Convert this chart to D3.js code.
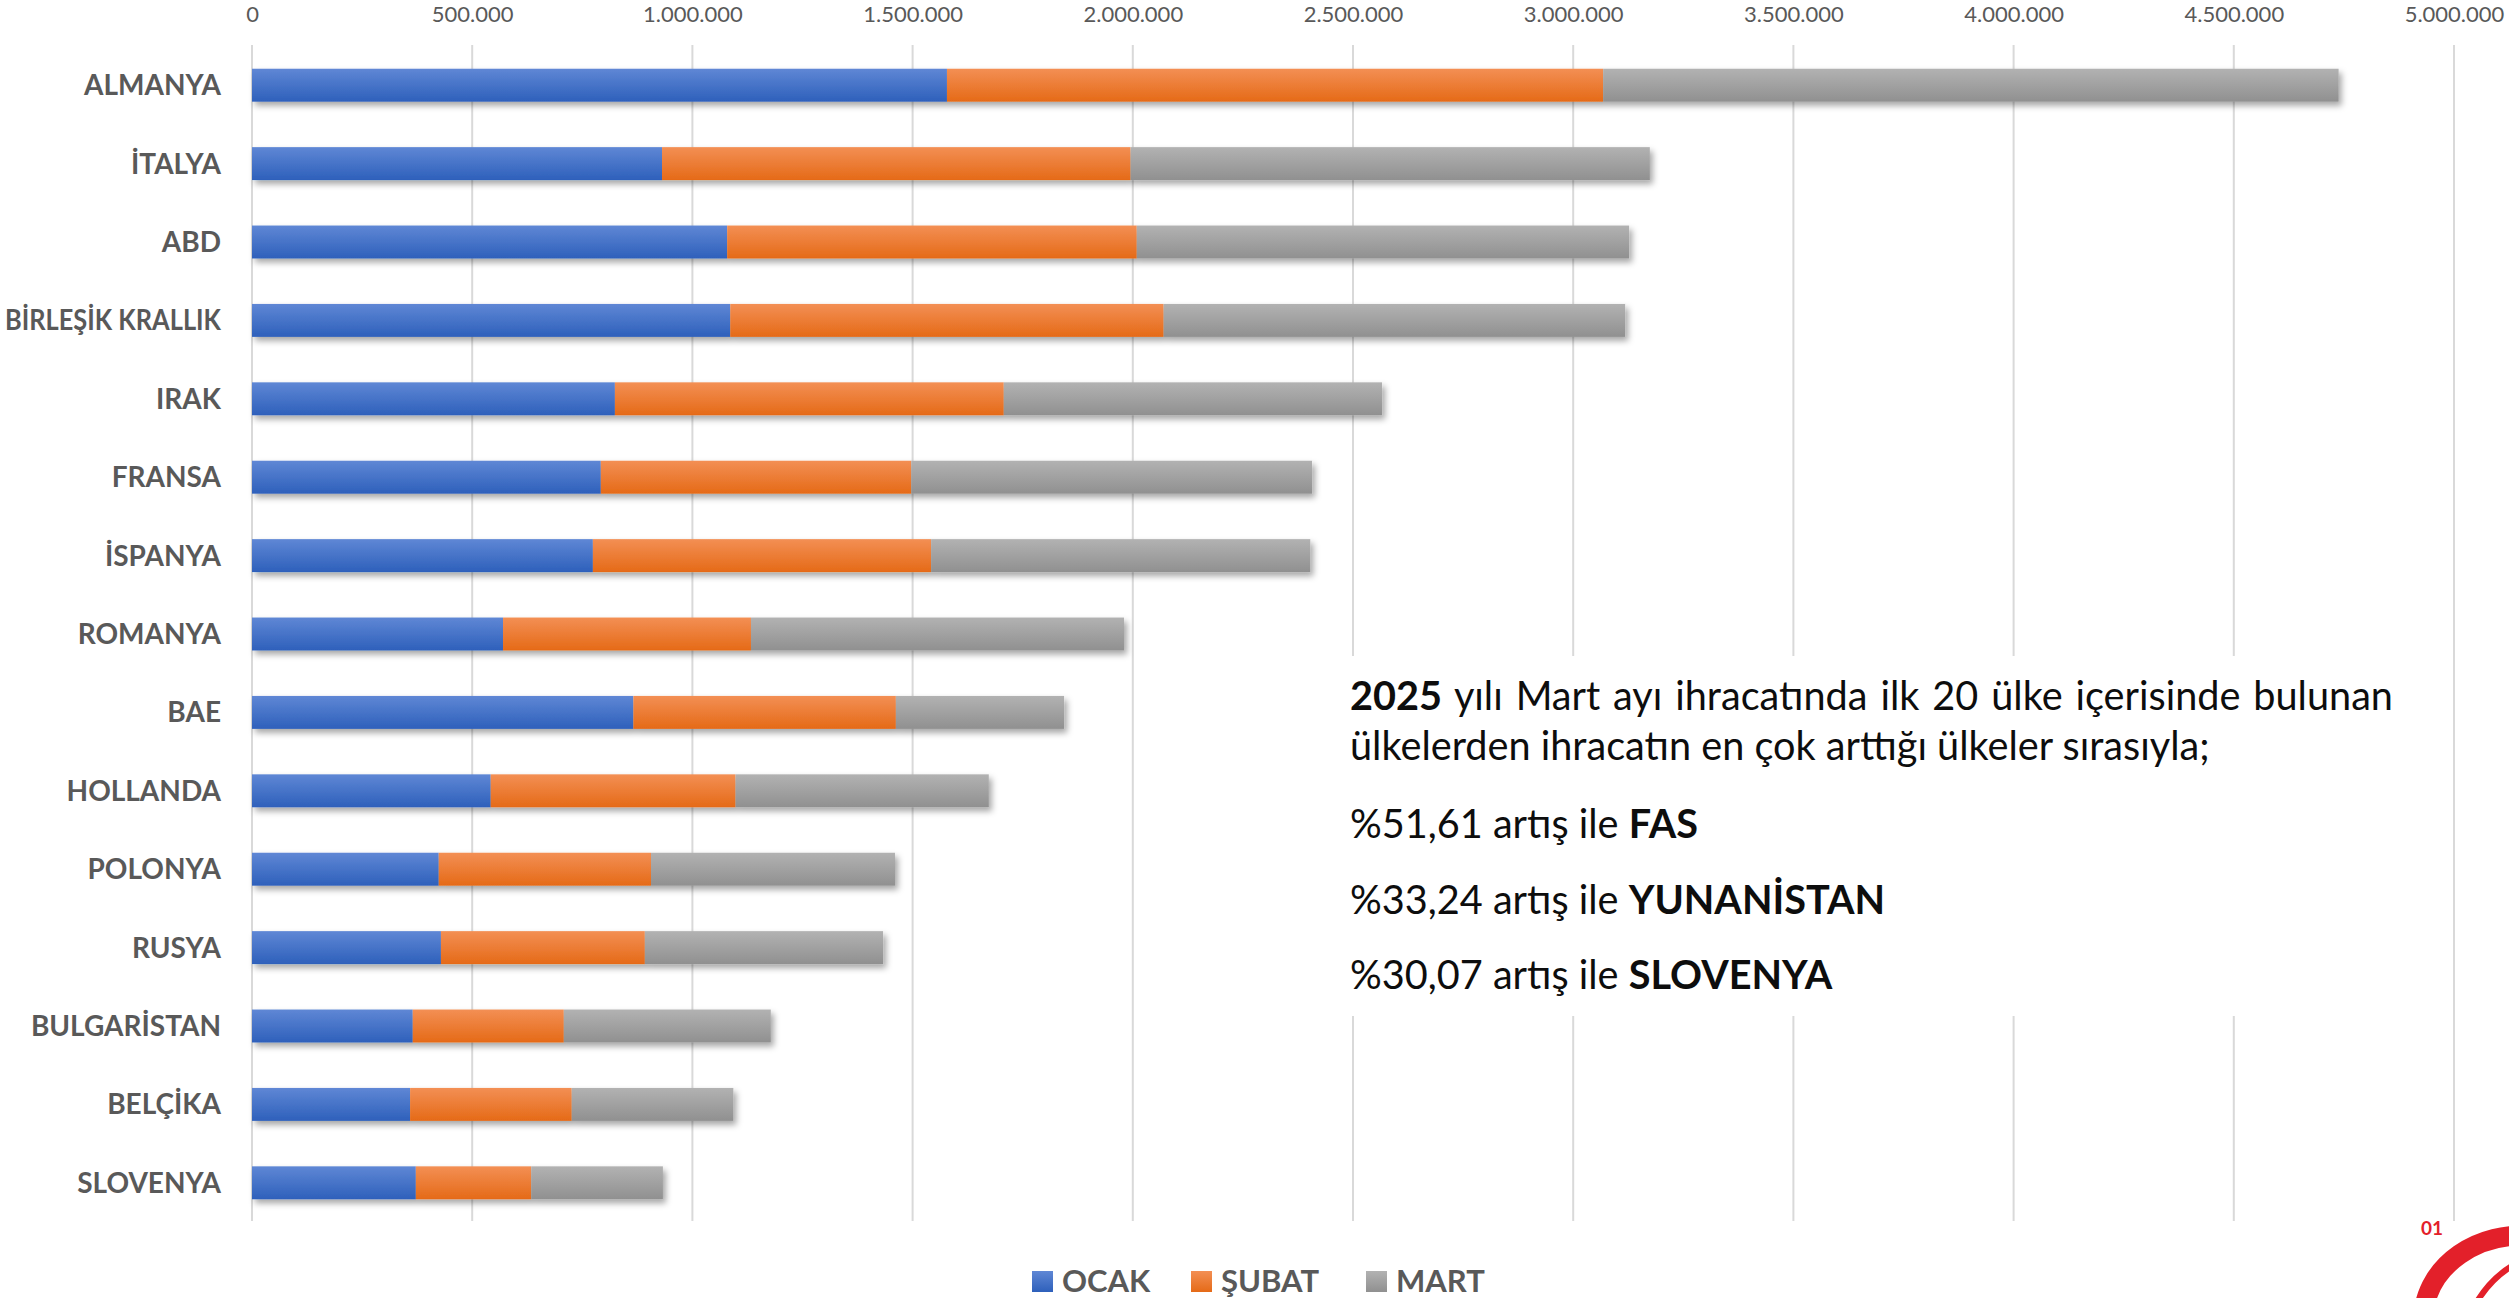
<!doctype html>
<html lang="tr">
<head>
    <meta charset="UTF-8">
    <title>İhracat - İlk 15 Ülke</title>
    <script src="https://cdnjs.cloudflare.com/ajax/libs/d3/7.8.5/d3.min.js"></script>
    <style>
        html, body {
            margin: 0;
            padding: 0;
            background: #ffffff;
            overflow: hidden;
        }
        text {
            font-family: Lato, "Open Sans", sans-serif;
        }
    </style>
</head>
<body>
<svg id="chart" width="2509" height="1298"></svg>
<script>
    // values (1 = 1.000 on the axis)
    const countries = ["ALMANYA", "İTALYA", "ABD", "BİRLEŞİK KRALLIK", "IRAK", "FRANSA", "İSPANYA",
        "ROMANYA", "BAE", "HOLLANDA", "POLONYA", "RUSYA", "BULGARİSTAN", "BELÇİKA", "SLOVENYA"];
    const ocak  = [1578000, 931000, 1079000, 1086000, 824000, 792000, 774000, 570000, 866000, 542000, 424000, 429000, 365000, 359000, 372000];
    const subat = [1490000, 1064000, 930000, 984000, 883000, 705000, 768000, 563000, 596000, 556000, 482000, 463000, 343000, 367000, 262000];
    const mart  = [1670000, 1179000, 1118000, 1048000, 859000, 910000, 861000, 847000, 382000, 575000, 554000, 541000, 470000, 367000, 299000];
    const seriesNames = ["OCAK", "ŞUBAT", "MART"];
    const tickValues = [0, 500000, 1000000, 1500000, 2000000, 2500000, 3000000, 3500000, 4000000, 4500000, 5000000];

    const noteLines = [
        [{t: "2025", b: true}, {t: " yılı Mart ayı ihracatında ilk 20 ülke içerisinde bulunan", b: false}],
        [{t: "ülkelerden ihracatın en çok arttığı ülkeler sırasıyla;", b: false}],
        [{t: "%51,61 artış ile ", b: false}, {t: "FAS", b: true}],
        [{t: "%33,24 artış ile ", b: false}, {t: "YUNANİSTAN", b: true}],
        [{t: "%30,07 artış ile ", b: false}, {t: "SLOVENYA", b: true}]
    ];

    const colors = {
        "OCAK":  ["#5F87D5", "#2E60BB"],
        "ŞUBAT": ["#F38F54", "#E56A17"],
        "MART":  ["#B2B2B2", "#909090"]
    };

    const svg = d3.select("#chart");

    const table = countries.map((c, i) => ({country: c, "OCAK": ocak[i], "ŞUBAT": subat[i], "MART": mart[i]}));
    const stacked = d3.stack().keys(seriesNames)(table);

    const x = d3.scaleLinear().domain([0, 5000000]).range([252, 2454]);
    const y = d3.scaleBand().domain(countries).range([46, 1222]).paddingInner(0.58).paddingOuter(0.29);

    const trLocale = d3.formatLocale({decimal: ",", thousands: ".", grouping: [3], currency: ["", ""]});
    const fmt = trLocale.format(",");

    // defs: gradients + shadow
    const defs = svg.append("defs");
    seriesNames.forEach((s, i) => {
        const lg = defs.append("linearGradient").attr("id", "grad" + i)
            .attr("x1", 0).attr("y1", 0).attr("x2", 0).attr("y2", 1);
        lg.append("stop").attr("offset", "0%").attr("stop-color", colors[s][0]);
        lg.append("stop").attr("offset", "100%").attr("stop-color", colors[s][1]);
    });
    defs.append("filter").attr("id", "shadow")
        .attr("x", "-5%").attr("y", "-30%").attr("width", "110%").attr("height", "180%")
        .append("feDropShadow")
        .attr("dx", 3).attr("dy", 4).attr("stdDeviation", 3)
        .attr("flood-color", "#000").attr("flood-opacity", 0.35);

    // grid
    svg.append("g").selectAll("line")
        .data(tickValues)
        .enter().append("line")
        .attr("x1", d => x(d)).attr("x2", d => x(d))
        .attr("y1", 45).attr("y2", 1221)
        .attr("stroke", "#d9d9d9").attr("stroke-width", 2);

    // top axis labels
    const xAxis = svg.append("g")
        .attr("transform", "translate(0,45)")
        .call(d3.axisTop(x).tickValues(tickValues).tickFormat(fmt).tickSize(0).tickPadding(23));
    xAxis.select(".domain").remove();
    xAxis.selectAll("text")
        .attr("fill", "#595959")
        .style("font-size", "22px");

    // left axis labels
    const yAxis = svg.append("g")
        .attr("transform", "translate(252,0)")
        .call(d3.axisLeft(y).tickSize(0).tickPadding(31));
    yAxis.select(".domain").remove();
    yAxis.selectAll("text")
        .attr("fill", "#595959")
        .attr("dy", "0.36em")
        .style("font-size", "28px")
        .style("font-weight", "bold")
        .each(function() {
            // keep the long label inside the page
            if (this.getComputedTextLength() > 216) {
                d3.select(this).attr("textLength", 216).attr("lengthAdjust", "spacingAndGlyphs");
            }
        });

    // bars: one group per country so the shadow is drawn once per bar
    const rows = svg.append("g").selectAll("g.row")
        .data(countries)
        .enter().append("g")
        .attr("class", "row")
        .attr("filter", "url(#shadow)");

    rows.selectAll("rect")
        .data((c, i) => stacked.map((s, k) => ({key: s.key, k: k, d: s[i]})))
        .enter().append("rect")
        .attr("x", d => x(d.d[0]))
        .attr("y", d => y(d.d.data.country))
        .attr("width", d => x(d.d[1]) - x(d.d[0]))
        .attr("height", y.bandwidth())
        .attr("fill", d => "url(#grad" + d.k + ")");

    // text note with white background
    svg.append("rect")
        .attr("x", 1330).attr("y", 656)
        .attr("width", 1090).attr("height", 360)
        .attr("fill", "#ffffff");

    const baselines = [710, 760, 838, 914, 989];
    const noteX = 1350;
    const note = svg.append("g");
    const noteTexts = noteLines.map((parts, i) => {
        const t = note.append("text")
            .attr("x", noteX).attr("y", baselines[i])
            .attr("fill", "#0d0d0d")
            .style("font-size", "36px");
        parts.forEach(p => {
            t.append("tspan").text(p.t).style("font-weight", p.b ? "bold" : "normal");
        });
        return t;
    });
    // fit size to the reference width of line 2, then justify line 1
    const w2 = noteTexts[1].node().getComputedTextLength();
    const fs = 36 * 860 / w2;
    noteTexts.forEach(t => t.style("font-size", fs + "px"));
    const w1 = noteTexts[0].node().getComputedTextLength();
    const spaces = (noteLines[0].map(p => p.t).join("").match(/ /g) || []).length;
    noteTexts[0].attr("word-spacing", (1043 - w1) / spaces);

    // legend
    const legendX = [1032, 1191, 1366];
    const legend = svg.append("g").selectAll("g")
        .data(seriesNames)
        .enter().append("g")
        .attr("transform", (d, i) => "translate(" + legendX[i] + ",1271)");
    legend.append("rect")
        .attr("width", 21).attr("height", 21)
        .attr("fill", (d, i) => "url(#grad" + i + ")");
    legend.append("text")
        .attr("x", 30).attr("y", 21)
        .attr("fill", "#595959")
        .style("font-size", "31px")
        .style("font-weight", "bold")
        .text(d => d);

    // corner logo
    svg.append("text")
        .attr("x", 2421).attr("y", 1235)
        .attr("fill", "#e3202a")
        .style("font-size", "19px")
        .style("font-weight", "bold")
        .text("01");
    svg.append("path")
        .attr("d", "M2424,1310 A98,84 0 0 1 2530,1236")
        .attr("fill", "none").attr("stroke", "#e3202a").attr("stroke-width", 20);
    svg.append("path")
        .attr("d", "M2478,1300 Q2492,1278 2512,1266")
        .attr("fill", "none").attr("stroke", "#e3202a").attr("stroke-width", 6);
</script>
</body>
</html>
